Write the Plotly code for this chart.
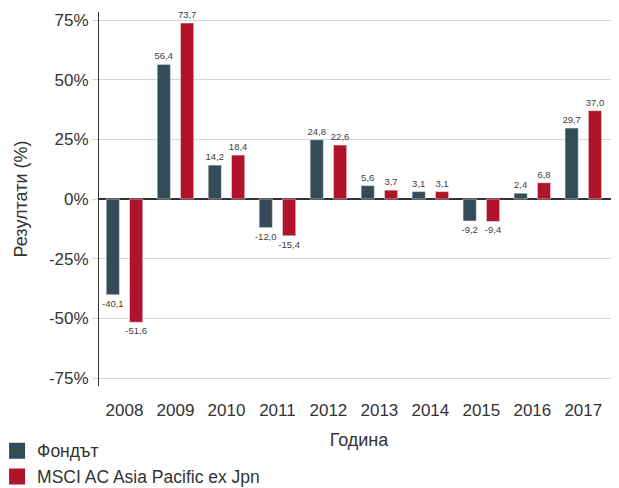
import plotly.graph_objects as go

years = ["2008", "2009", "2010", "2011", "2012", "2013", "2014", "2015", "2016", "2017"]
fund = [-40.1, 56.4, 14.2, -12.0, 24.8, 5.6, 3.1, -9.2, 2.4, 29.7]
msci = [-51.6, 73.7, 18.4, -15.4, 22.6, 3.7, 3.1, -9.4, 6.8, 37.0]
series_names = ["Фондът", "MSCI AC Asia Pacific ex Jpn"]
colors = ["#354c58", "#b0132a"]
ytick_vals = [-75, -50, -25, 0, 25, 50, 75]
ytick_text = ["-75%", "-50%", "-25%", "0%", "25%", "50%", "75%"]

def fmt(v):
    return f"{v:.1f}".replace(".", ",")

fig = go.Figure()
for name, vals, col in zip(series_names, [fund, msci], colors):
    fig.add_trace(go.Bar(
        x=years, y=vals, name=name, marker_color=col, showlegend=False,
        text=[fmt(v) for v in vals], textposition="outside", constraintext="none",
        textfont=dict(size=9.5, color="#404040"), cliponaxis=False,
    ))
    fig.add_trace(go.Scatter(
        x=[None], y=[None], mode="markers", name=name,
        marker=dict(symbol="square", size=19, color=col),
    ))

# page has an 8px body margin; compensate so the chart fills 619x488 window
fig.update_layout(
    width=611, height=480,
    margin=dict(l=91, r=0, t=4, b=102, autoexpand=False),
    paper_bgcolor="white", plot_bgcolor="white",
    font=dict(family="Liberation Sans, Arial, sans-serif", color="#333333", size=17),
    barmode="group", bargap=0.085, bargroupgap=0.435,
    showlegend=True,
    legend=dict(x=-0.196, y=-0.125, xanchor="left", yanchor="top",
                font=dict(size=17.5, color="#333333"), itemwidth=30,
                tracegroupgap=0, bgcolor="rgba(0,0,0,0)"),
)
fig.update_xaxes(
    type="category", range=[-0.5, 9.7], showgrid=False, showline=False,
    ticks="", tickfont=dict(size=17, color="#333333"), automargin=False,
    ticklabelstandoff=12,
    title=dict(text="Година", font=dict(size=18, color="#333333"), standoff=14),
)
fig.update_yaxes(
    range=[-78.35, 78.35], tickvals=ytick_vals, ticktext=ytick_text,
    showgrid=True, gridcolor="#d6d6d6", gridwidth=1,
    zeroline=True, zerolinecolor="#333333", zerolinewidth=2,
    showline=True, linecolor="#333333", linewidth=1,
    ticks="outside", ticklen=6, tickcolor="#d6d6d6",
    automargin=False,
    tickfont=dict(size=17, color="#333333"),
    title=dict(text="Резултати (%)", font=dict(size=18, color="#333333"), standoff=16),
)
fig.write_html("out.html")
